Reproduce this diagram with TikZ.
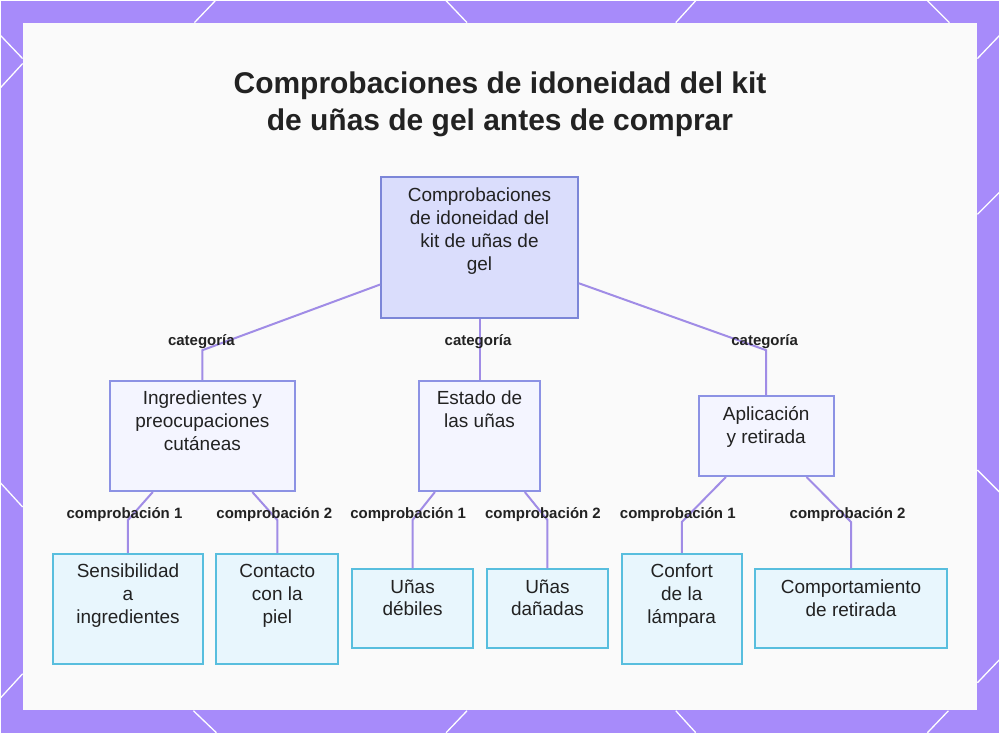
\documentclass[tikz,border=0pt]{standalone}
\usepackage{fontspec}
\setmainfont{Liberation Sans}
\usepackage{tikz}
\definecolor{bgpurple}{RGB}{167,139,250}
\definecolor{panelwhite}{RGB}{250,250,250}
\definecolor{rootfill}{RGB}{218,221,252}
\definecolor{rootline}{RGB}{124,134,216}
\definecolor{catfill}{RGB}{244,245,255}
\definecolor{catline}{RGB}{140,146,228}
\definecolor{leaffill}{RGB}{232,246,253}
\definecolor{leafline}{RGB}{88,190,222}
\definecolor{edgeline}{RGB}{160,140,230}
\definecolor{inktext}{RGB}{34,34,34}
% box text: width, height, lines (top aligned)
\newcommand\BoxText[3]{%
    \parbox[c][#2pt][t]{#1pt}{\centering\vspace*{10pt}#3}%
}

\begin{document}
\begin{tikzpicture}[x=1pt,y=-1pt,
    boxfont/.style={font=\fontsize{19}{23}\selectfont,text=inktext},
    rootbox/.style={boxfont,draw=rootline,fill=rootfill,line width=2pt,inner sep=0pt},
    catbox/.style={boxfont,draw=catline,fill=catfill,line width=2pt,inner sep=0pt},
    leafbox/.style={boxfont,draw=leafline,fill=leaffill,line width=2pt,inner sep=0pt},
    edge/.style={draw=edgeline,line width=2pt},
    edgelabel/.style={font=\fontsize{15}{18}\selectfont\bfseries,text=inktext,inner sep=1pt},
    deco/.style={draw=white,line width=1.3pt}]
    % background and panel
    \fill[bgpurple] (0,0) rectangle (1000,733);
    \draw[deco] (194,22) -- (215,0);   \draw[deco] (446,0) -- (467,22);
    \draw[deco] (676,22) -- (696,0);   \draw[deco] (928,0) -- (950,22);
    \draw[deco] (193,711) -- (216,733); \draw[deco] (467,711) -- (446,733);
    \draw[deco] (676,711) -- (696,733); \draw[deco] (949,711) -- (928,733);
    \draw[deco] (0,35) -- (22,58);     \draw[deco] (0,87) -- (22,63);
    \draw[deco] (0,483) -- (22,507);   \draw[deco] (0,698) -- (22,674);
    \draw[deco] (978,58) -- (1000,35); \draw[deco] (978,214) -- (1000,192);
    \draw[deco] (978,470) -- (1000,492); \draw[deco] (978,683) -- (1000,660);
    \fill[panelwhite] (22,22) rectangle (978,710);
    \node[font=\fontsize{30}{37}\selectfont\bfseries,text=inktext,align=center] (title) at (500,104)
        {Comprobaciones de idoneidad del kit\\de uñas de gel antes de comprar};
    % root
    \node[rootbox] (checks) at (479.5,247.5)
        {\BoxText{197}{141}{Comprobaciones\\de idoneidad del\\kit de uñas de\\gel}};
    % categories
    \node[catbox] (ingr) at (202,436) {\BoxText{186}{110}{Ingredientes y\\preocupaciones\\cutáneas}};
    \node[catbox] (estado) at (479.5,436) {\BoxText{121}{110}{Estado de\\las uñas}};
    \node[catbox] (aplic) at (766.5,436) {\BoxText{135}{80}{Aplicación\\y retirada}};
    % checks
    \node[leafbox] (sens) at (127.5,609) {\BoxText{151}{110}{Sensibilidad\\a\\ingredientes}};
    \node[leafbox] (contacto) at (277,609) {\BoxText{122}{110}{Contacto\\con la\\piel}};
    \node[leafbox] (debiles) at (412.5,609) {\BoxText{121}{79}{Uñas\\débiles}};
    \node[leafbox] (danadas) at (547.5,609) {\BoxText{121}{79}{Uñas\\dañadas}};
    \node[leafbox] (confort) at (682,609) {\BoxText{120}{110}{Confort\\de la\\lámpara}};
    \node[leafbox] (comport) at (851.5,609) {\BoxText{193}{79}{Comportamiento\\de retirada}};
    % bends
    \coordinate (catA) at (202,350);
    \coordinate (catB) at (479.5,350);
    \coordinate (catC) at (766.5,350);
    \coordinate (ingrA) at (127.5,520);
    \coordinate (ingrB) at (277,520);
    \coordinate (estadoA) at (412.5,520);
    \coordinate (estadoB) at (547.5,520);
    \coordinate (aplicA) at (682,522);
    \coordinate (aplicB) at (851.5,522);
    \draw[edge] (checks) -- (catA) -- (ingr);
    \draw[edge] (checks) -- (catB) -- (estado);
    \draw[edge] (checks) -- (catC) -- (aplic);
    \draw[edge] (ingr) -- (ingrA) -- (sens);
    \draw[edge] (ingr) -- (ingrB) -- (contacto);
    \draw[edge] (estado) -- (estadoA) -- (debiles);
    \draw[edge] (estado) -- (estadoB) -- (danadas);
    \draw[edge] (aplic) -- (aplicA) -- (confort);
    \draw[edge] (aplic) -- (aplicB) -- (comport);
    % edge labels
    \node[edgelabel] (labA) at (201,341) {categoría};
    \node[edgelabel] (labB) at (478,341) {categoría};
    \node[edgelabel] (labC) at (765,341) {categoría};
    \node[edgelabel] (labD) at (124,515) {comprobación 1};
    \node[edgelabel] (labE) at (274,515) {comprobación 2};
    \node[edgelabel] (labF) at (408,515) {comprobación 1};
    \node[edgelabel] (labG) at (543,515) {comprobación 2};
    \node[edgelabel] (labH) at (678,515) {comprobación 1};
    \node[edgelabel] (labI) at (848,515) {comprobación 2};
\end{tikzpicture}
\end{document}
